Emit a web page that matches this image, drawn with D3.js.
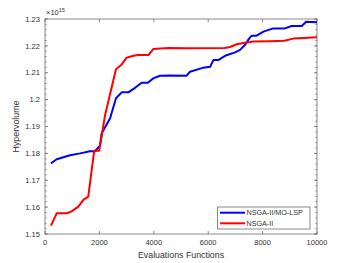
<!DOCTYPE html>
<html>
<head>
<meta charset="utf-8">
<script src="https://cdn.jsdelivr.net/npm/d3@7"></script>
<style>
body { margin: 0; background: #fff; }
text { font-family: "Liberation Sans", Arial, sans-serif; }
</style>
</head>
<body>
<svg id="chart" width="350" height="263"></svg>
<script>
const blueX = [220, 430, 920, 1290, 1650, 1840, 2020, 2085, 2390, 2610, 2820, 3060, 3310, 3550, 3780, 3980, 4230, 4600, 5210, 5330, 5820, 6070, 6190, 6370, 6620, 6990, 7170, 7350, 7510, 7600, 7780, 8030, 8390, 8820, 9070, 9440, 9600, 10000];
const blueY = [1.1763, 1.1778, 1.1793, 1.1800, 1.1808, 1.1808, 1.1829, 1.1875, 1.1930, 1.2005, 1.2027, 1.2027, 1.2044, 1.2063, 1.2063, 1.2079, 1.2089, 1.2090, 1.2089, 1.2104, 1.2119, 1.2122, 1.2147, 1.2147, 1.2163, 1.2176, 1.2185, 1.2203, 1.2228, 1.2238, 1.2238, 1.2253, 1.2265, 1.2265, 1.2274, 1.2274, 1.2290, 1.2288];
const redX = [220, 430, 800, 980, 1225, 1410, 1590, 1810, 1995, 2210, 2610, 2820, 3000, 3250, 3430, 3800, 3980, 4530, 5200, 6600, 6800, 7050, 7350, 7660, 8270, 8800, 9130, 9500, 10000];
const redY = [1.1531, 1.1577, 1.1577, 1.1584, 1.1602, 1.1627, 1.1639, 1.1810, 1.1810, 1.1943, 1.2113, 1.2131, 1.2156, 1.2163, 1.2166, 1.2166, 1.2188, 1.2192, 1.2191, 1.2192, 1.2196, 1.2206, 1.2212, 1.2216, 1.2217, 1.2219, 1.2227, 1.2229, 1.2232];
const xTicks = [0, 2000, 4000, 6000, 8000, 10000];
const yTicks = [1.15, 1.16, 1.17, 1.18, 1.19, 1.2, 1.21, 1.22, 1.23];
const seriesNames = ["NSGA-II/MO-LSP", "NSGA-II"];
const seriesColors = ["#0000ff", "#ff0000"];

const svg = d3.select("#chart"),
    m = {left: 45, top: 19, right: 317, bottom: 234},
    ink = "#333", axisCol = "#6e6e6e";

const x = d3.scaleLinear().domain([0, 10000]).range([m.left, m.right]);
const y = d3.scaleLinear().domain([1.15, 1.23]).range([m.bottom, m.top]);

// box
svg.append("rect").attr("x", m.left).attr("y", m.top)
  .attr("width", m.right - m.left).attr("height", m.bottom - m.top)
  .attr("fill", "none").attr("stroke", axisCol).attr("stroke-width", 0.8);

const minor = d3.range(1.15, 1.2301, 0.002);
const g = svg.append("g").attr("stroke", axisCol).attr("stroke-width", 0.8);
minor.forEach(v => {
  g.append("line").attr("x1", m.left).attr("x2", m.left + 1.6).attr("y1", y(v)).attr("y2", y(v));
  g.append("line").attr("x1", m.right).attr("x2", m.right - 1.6).attr("y1", y(v)).attr("y2", y(v));
});
yTicks.forEach(v => {
  g.append("line").attr("x1", m.left).attr("x2", m.left + 3).attr("y1", y(v)).attr("y2", y(v));
  g.append("line").attr("x1", m.right).attr("x2", m.right - 3).attr("y1", y(v)).attr("y2", y(v));
});
xTicks.forEach(v => {
  g.append("line").attr("x1", x(v)).attr("x2", x(v)).attr("y1", m.bottom).attr("y2", m.bottom - 3);
  g.append("line").attr("x1", x(v)).attr("x2", x(v)).attr("y1", m.top).attr("y2", m.top + 3);
});

svg.append("g").selectAll("text").data(yTicks).enter().append("text")
  .attr("x", m.left - 5).attr("y", d => y(d) + 2.7)
  .attr("text-anchor", "end").attr("font-size", 7.6).attr("fill", ink)
  .text(d => d3.format("")(d));
svg.append("g").selectAll("text").data(xTicks).enter().append("text")
  .attr("x", d => x(d)).attr("y", m.bottom + 10.5)
  .attr("text-anchor", "middle").attr("font-size", 7.5).attr("fill", ink)
  .text(d => d);

const ex = svg.append("text").attr("x", m.left + 1).attr("y", m.top - 4)
  .attr("font-size", 7.5).attr("fill", ink);
ex.append("tspan").text("\u00d710");
ex.append("tspan").attr("dy", -3).attr("font-size", 5.6).text("15");

svg.append("text").attr("x", (m.left + m.right) / 2).attr("y", 257.5)
  .attr("text-anchor", "middle").attr("font-size", 8.8).attr("fill", ink)
  .text("Evaluations Functions");
svg.append("text").attr("transform", "translate(19," + ((m.top + m.bottom) / 2) + ") rotate(-90)")
  .attr("text-anchor", "middle").attr("font-size", 8.8).attr("fill", ink)
  .text("Hypervolume");

const line = d3.line().x(d => x(d[0])).y(d => y(d[1]));
const series = [d3.zip(blueX, blueY), d3.zip(redX, redY)];
// red drawn over blue
[0, 1].forEach(i => {
  svg.append("path").datum(series[i]).attr("fill", "none")
    .attr("stroke", seriesColors[i]).attr("stroke-width", 2)
    .attr("stroke-linejoin", "round").attr("d", line);
});

// legend
const lg = svg.append("g");
lg.append("rect").attr("x", 217.5).attr("y", 207).attr("width", 92.5).attr("height", 22)
  .attr("fill", "#fff").attr("stroke", axisCol).attr("stroke-width", 0.8);
seriesNames.forEach((s, i) => {
  const yy = 212.7 + i * 10.6;
  lg.append("line").attr("x1", 220).attr("x2", 245).attr("y1", yy).attr("y2", yy)
    .attr("stroke", seriesColors[i]).attr("stroke-width", 2);
  lg.append("text").attr("x", 246.5).attr("y", yy + 2.5).attr("font-size", 7.2)
    .attr("fill", ink).text(s);
});
</script>
</body>
</html>
